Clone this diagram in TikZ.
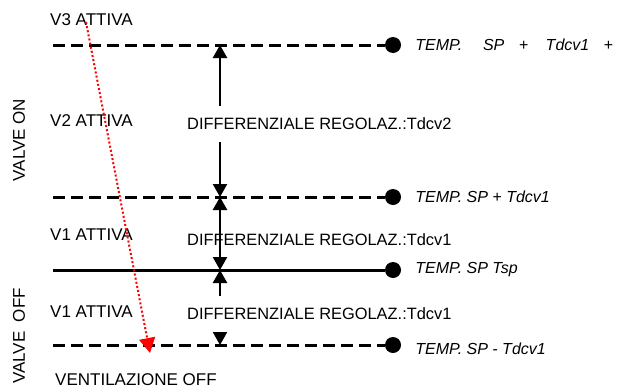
\documentclass[tikz,border=0pt]{standalone}
\usepackage{fontspec}
\setmainfont{Liberation Sans}
\usepackage{tikz}
\usetikzlibrary{positioning,arrows.meta}

\begin{document}
\begin{tikzpicture}[x=1pt,y=-1pt,>={Triangle[length=13pt,width=14pt]},
		every node/.style={font=\fontsize{17}{19}\selectfont,inner sep=0pt},
		level/.style={line width=3pt,dash pattern=on 12pt off 6pt},
		setline/.style={line width=3pt},
		spdot/.style={circle,fill=black,minimum size=16pt},
		sptext/.style={right=14pt of #1,font=\fontsize{16}{18}\selectfont\itshape},
		zone/.style={anchor=west},
		diff/.style={anchor=west,font=\fontsize{16.4}{18}\selectfont},
		gap/.style={fill=white,inner ysep=12pt},
		span/.style={<->,line width=2.4pt},
		vent/.style={red,line width=2pt,dash pattern=on 2pt off 2.2pt,-{Triangle[length=15pt,width=16pt]}}]
		\useasboundingbox (0,0) rectangle (620,388);

		% set points
		\node[spdot] (p3) at (393,45) {};
		\node[spdot] (p2) at (393,197) {};
		\node[spdot] (p1) at (393,270) {};
		\node[spdot] (p0) at (393,345) {};
		\coordinate (l3) at (53,45);
		\coordinate (l2) at (53,197);
		\coordinate (l1) at (53,270);
		\coordinate (l0) at (53,345);
		\node[sptext=p3] (t3) {TEMP.\hspace{1.3em}SP\hspace{0.9em}+\hspace{1.1em}Tdcv1\hspace{0.9em}+};
		\node[sptext=p2] (t2) {TEMP. SP + Tdcv1};
		\node[sptext=p1] (t1) {TEMP. SP Tsp};
		\node[sptext=p0,yshift=-4pt] (t0) {TEMP. SP - Tdcv1};

		\draw[level] (l3) -- (p3);
		\draw[level] (l2) -- (p2);
		\draw[setline] (l1) -- (p1);
		\draw[level] (l0) -- (p0);

		% zones
		\node[zone] (v3) at (50,20) {V3 ATTIVA};
		\node[zone] (v2) at (50,121) {V2 ATTIVA};
		\node[zone] (v1a) at (50,235) {V1 ATTIVA};
		\node[zone] (v1b) at (50,312) {V1 ATTIVA};
		\node[zone] (voff) at (55,380) {VENTILAZIONE OFF};
		\node[rotate=90] (von) at (19,140) {VALVE ON};
		\node[rotate=90] (vof) at (19,336) {VALVE\ \ OFF};

		% differentials
		\coordinate (m3) at (220,45);
		\coordinate (m2) at (220,197);
		\coordinate (m1) at (220,270);
		\coordinate (m0) at (220,345);
		\draw[span] (m3) -- (m2);
		\draw[span] (m2) -- (m1);
		\draw[span] (m1) -- (m0);
		\node[diff,gap] (d2) at (187,124) {DIFFERENZIALE REGOLAZ.:Tdcv2};
		\node[diff] (d1a) at (187,240) {DIFFERENZIALE REGOLAZ.:Tdcv1};
		\node[diff,gap] (d1b) at (187,314) {DIFFERENZIALE REGOLAZ.:Tdcv1};

		% ventilation
		\coordinate (r0) at (86,22);
		\coordinate (r1) at (150,353);
		\draw[vent] (r0) -- (r1);
\end{tikzpicture}
\end{document}
